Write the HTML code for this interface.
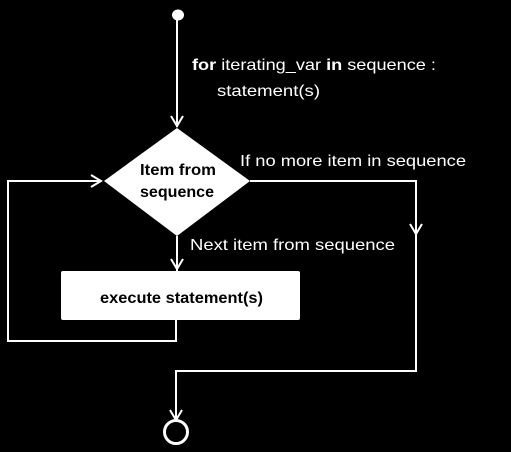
<!DOCTYPE html>
<html><head><meta charset="utf-8"><style>
html,body{margin:0;padding:0;background:#000;}
svg{display:block}
text{font-family:"Liberation Sans",sans-serif;fill:#fff}
</style></head><body>
<svg width="511" height="452" viewBox="0 0 511 452" xmlns="http://www.w3.org/2000/svg">
<rect width="511" height="452" fill="#000"/>
<g stroke="#fff" stroke-width="2" fill="none">
<line x1="177" y1="15" x2="177" y2="127"/>
<polyline points="171,116 177,126 183,116"/>
<polyline points="250,181 416,181 416,371 176,371 176,420"/>
<polyline points="410,224 416,234 422,224"/>
<polyline points="170,410 176,420 182,410"/>
<line x1="177" y1="236" x2="177" y2="271"/>
<polyline points="171,259 177,269 183,259"/>
<polyline points="176,320 176,341 8,341 8,181 101,181"/>
<polyline points="91,175 101,181 91,187"/>
<circle cx="176" cy="432" r="11.5" stroke-width="3"/>
</g>
<ellipse cx="178" cy="15" rx="6" ry="5.5" fill="#fff"/>
<polygon points="177,128 250,181 177,236 104,181" fill="#fff"/>
<rect x="61" y="271" width="239" height="49" rx="2" fill="#fff"/>
<text x="140" y="175" font-size="16" font-weight="bold" style="fill:#000" textLength="76" lengthAdjust="spacingAndGlyphs">Item from</text>
<text x="140" y="197" font-size="16" font-weight="bold" style="fill:#000" textLength="74" lengthAdjust="spacingAndGlyphs">sequence</text>
<text x="100" y="303" font-size="16" font-weight="bold" style="fill:#000" textLength="163" lengthAdjust="spacingAndGlyphs">execute statement(s)</text>
<text x="192" y="70" font-size="16" textLength="244" lengthAdjust="spacingAndGlyphs"><tspan font-weight="bold">for</tspan> iterating_var <tspan font-weight="bold">in</tspan> sequence :</text>
<text x="217" y="96" font-size="16" textLength="103" lengthAdjust="spacingAndGlyphs">statement(s)</text>
<text x="240" y="166" font-size="16" textLength="226" lengthAdjust="spacingAndGlyphs">If no more item in sequence</text>
<text x="190" y="250" font-size="16" textLength="205" lengthAdjust="spacingAndGlyphs">Next item from  sequence</text>
</svg>
</body></html>
